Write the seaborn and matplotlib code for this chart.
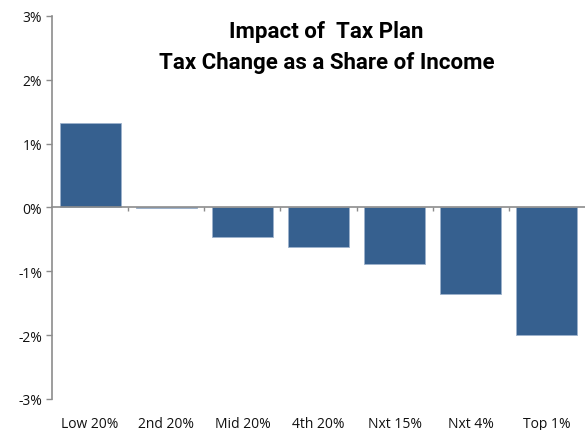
import matplotlib
matplotlib.use("Agg")
import matplotlib.pyplot as plt
import seaborn as sns
import pandas as pd
from matplotlib.ticker import FuncFormatter, FixedLocator

# data (percent of income)
groups = ["Low 20%", "2nd 20%", "Mid 20%", "4th 20%", "Nxt 15%", "Nxt 4%", "Top 1%"]
change = [1.32, -0.01, -0.46, -0.62, -0.89, -1.35, -2.0]
yticks = [-3, -2, -1, 0, 1, 2, 3]

df = pd.DataFrame({"group": groups, "change": change})

sns.set_style("white")
plt.rcParams["font.family"] = ["Open Sans", "DejaVu Sans"]

fig = plt.figure(figsize=(5.85, 4.31), dpi=100)
ax = fig.add_axes([0.089, 0.072, 0.911, 0.889])

sns.barplot(data=df, x="group", y="change", color="#36608f", width=0.8,
            edgecolor="#9db2cc", linewidth=0.6, saturation=1, ax=ax)

ax.set_xlim(-0.5, len(groups) - 0.5)
ax.set_ylim(-3, 3)
ax.set_yticks(yticks)
ax.yaxis.set_major_formatter(FuncFormatter(lambda v, p: f"{int(round(v))}%"))
ax.set_xlabel("")
ax.set_ylabel("")

axis_grey = "#8c8c8c"
for s in ["top", "right"]:
    ax.spines[s].set_visible(False)
ax.spines["left"].set_color(axis_grey)
ax.spines["bottom"].set_color(axis_grey)
ax.spines["left"].set_linewidth(1.2)
ax.spines["bottom"].set_linewidth(1.2)
ax.spines["bottom"].set_position(("data", 0))

ax.tick_params(axis="y", direction="out", length=4, width=1, color=axis_grey,
               labelsize=10, labelcolor="#111111", pad=3, left=True)
# boundary ticks on the zero line
ax.xaxis.set_major_locator(FixedLocator([i + 0.5 for i in range(len(groups) - 1)]))
ax.set_xticklabels([])
ax.tick_params(axis="x", direction="out", length=3, width=1, color=axis_grey, bottom=True)

# category labels at the bottom
sec = ax.secondary_xaxis("bottom")
sec.set_xticks(range(len(groups)))
sec.set_xticklabels(groups)
sec.tick_params(length=0, labelsize=10, labelcolor="#111111", pad=12)
sec.spines["bottom"].set_visible(False)

title_font = ["Roboto", "DejaVu Sans"]
ax.text(0.515, 0.961, "Impact of  Tax Plan", transform=ax.transAxes, ha="center",
        va="center", fontsize=16, fontweight="bold", family=title_font, color="black")
ax.text(0.515, 0.88, "Tax Change as a Share of Income", transform=ax.transAxes,
        ha="center", va="center", fontsize=16, fontweight="bold", family=title_font,
        color="black")

fig.savefig("out.png", dpi=100)
